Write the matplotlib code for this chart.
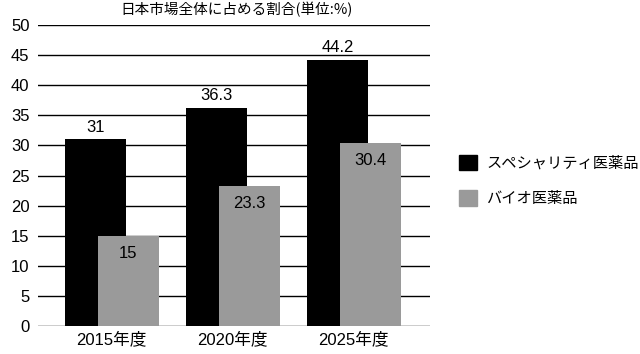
import matplotlib
matplotlib.use("Agg")
import matplotlib.pyplot as plt
import numpy as np
from matplotlib.patches import Patch

plt.rcParams['font.family'] = ['Liberation Sans', 'Noto Sans CJK JP']

categories = ["2015年度", "2020年度", "2025年度"]
specialty = [31, 36.3, 44.2]
bio = [15, 23.3, 30.4]
series_names = ["スペシャリティ医薬品", "バイオ医薬品"]
title = "日本市場全体に占める割合(単位:%)"

fig = plt.figure(figsize=(6.4, 3.54), dpi=100)
ax = fig.add_axes([0.059, 0.079, 0.613, 0.85])

x = np.arange(len(categories))
w = 0.505
off = 0.136
black = "#000000"
gray = "#9a9a9a"

for y in range(0, 51, 5):
    ax.axhline(y, color="black", lw=1.0, zorder=0)

ax.bar(x - off, specialty, w, color=black, zorder=2)
ax.bar(x + off, bio, w, color=gray, zorder=3)

for xi, v in zip(x, specialty):
    ax.text(xi - off, v + 0.8, f"{v:g}", ha="center", va="bottom", fontsize=12, zorder=4)
for xi, v in zip(x, bio):
    ax.text(xi + off, v - 1.7, f"{v:g}", ha="center", va="top", fontsize=12, zorder=4)

ax.set_xlim(-0.61, 2.63)
ax.set_ylim(0, 50)
ax.set_yticks(range(0, 51, 5))
ax.set_xticks(x)
ax.set_xticklabels(categories)
ax.tick_params(length=0, labelsize=12)
ax.tick_params(axis='y', pad=6)
ax.tick_params(axis='x', pad=4)
for s in ax.spines.values():
    s.set_visible(False)

fig.text(0.37, 0.972, title, ha="center", va="center", fontsize=10.5,
         family=['Noto Sans CJK JP', 'DejaVu Sans'])

handles = [Patch(color=black), Patch(color=gray)]
fig.legend(handles, series_names, loc="center left", bbox_to_anchor=(0.695, 0.49),
           frameon=False, fontsize=11, handlelength=1.2, handleheight=1.2,
           labelspacing=1.3, handletextpad=0.6)

fig.savefig("out.png", dpi=100)
